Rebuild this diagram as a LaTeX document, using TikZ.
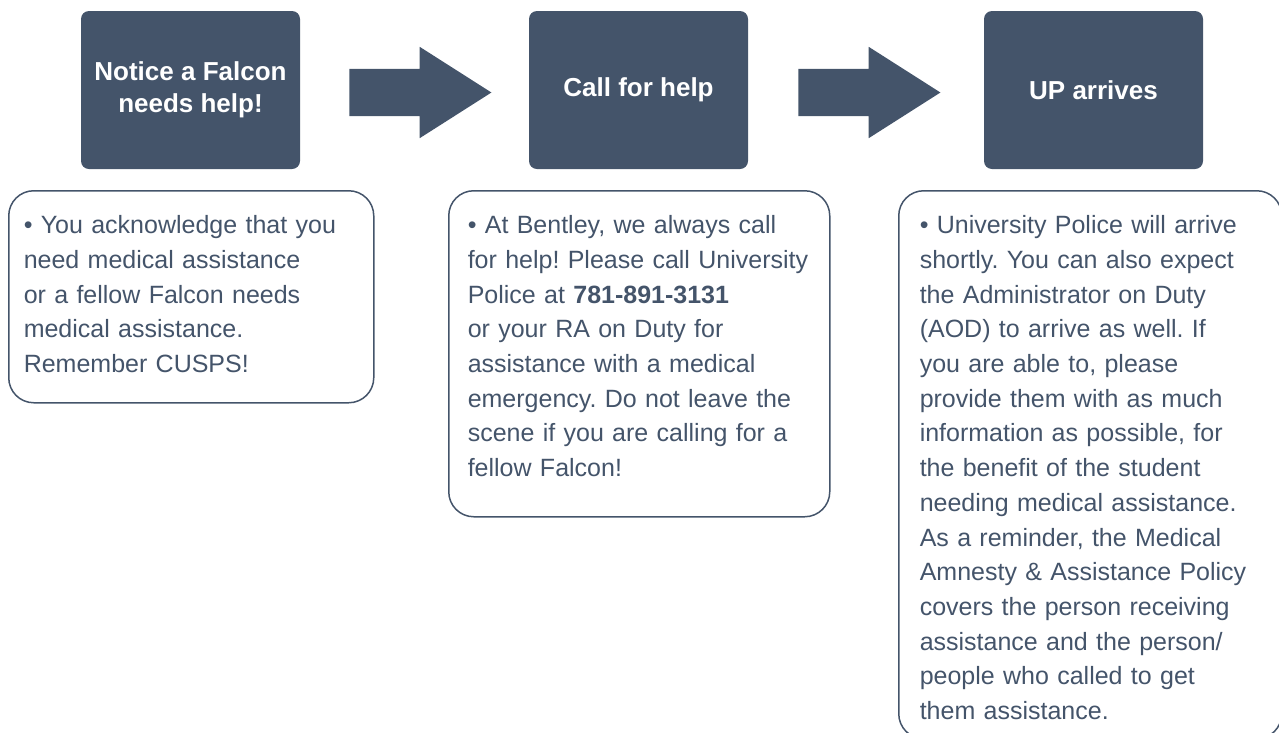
\documentclass[tikz,border=0pt]{standalone}
\usepackage{fontspec}
\setmainfont{Liberation Sans}
\frenchspacing
\definecolor{deskblue}{RGB}{68, 84, 106}
\usetikzlibrary{shapes.arrows, positioning}
\tikzset{
  stepbox/.style={fill=deskblue, rounded corners=8pt, minimum width=219pt, minimum height=158pt,
    text=white, align=center, font=\bfseries\fontsize{26}{32}\selectfont},
  bigarrow/.style={single arrow, fill=deskblue, inner xsep=0pt, inner ysep=23.5pt, minimum height=142pt,
    minimum width=91pt, single arrow head extend=22pt, single arrow tip angle=65, yshift=-2.5pt},
  notebox/.style={draw=deskblue, line width=1.5pt, rounded corners=25pt, anchor=north west,
    text=deskblue, align=left, inner xsep=15pt, inner ysep=0pt, text height=43pt,
    font=\fontsize{25}{34.7}\selectfont}
}

\begin{document}
\begin{tikzpicture}[x=1pt, y=-1pt]
  \useasboundingbox (0,0) rectangle (1279,732);

  \node[stepbox] (notice) at (190.5,90) {Notice a Falcon\\needs help!};
  \node[stepbox] (call) at (638.5,90) {Call for help};
  \node[stepbox] (arrive) at (1093.5,90) {UP arrives};

  \node[bigarrow, right=49pt of notice] (arr1) {};
  \node[bigarrow, right=50pt of call] (arr2) {};

  \node[notebox, text width=335pt, text depth=169pt] (noticenote) at (8,190) {%
    • You acknowledge that you\\
    need medical assistance\\
    or a fellow Falcon needs\\
    medical assistance.\\
    Remember CUSPS!};
  \node[notebox, inner xsep=19pt, text width=343pt, text depth=283pt] (callnote) at (448,190) {%
    • At Bentley, we always call\\
    for help! Please call University\\
    Police at \textbf{781-891-3131}\\
    or your RA on Duty for\\
    assistance with a medical\\
    emergency. Do not leave the\\
    scene if you are calling for a\\
    fellow Falcon!};
  \node[notebox, inner xsep=21pt, text width=341pt, text depth=505pt] (arrivenote) at (898,190) {%
    • University Police will arrive\\
    shortly. You can also expect\\
    the Administrator on Duty\\
    (AOD) to arrive as well. If\\
    you are able to, please\\
    provide them with as much\\
    information as possible, for\\
    the benefit of the student\\
    needing medical assistance.\\
    As a reminder, the Medical\\
    Amnesty \& Assistance Policy\\
    covers the person receiving\\
    assistance and the person/\\
    people who called to get\\
    them assistance.};
\end{tikzpicture}
\end{document}
